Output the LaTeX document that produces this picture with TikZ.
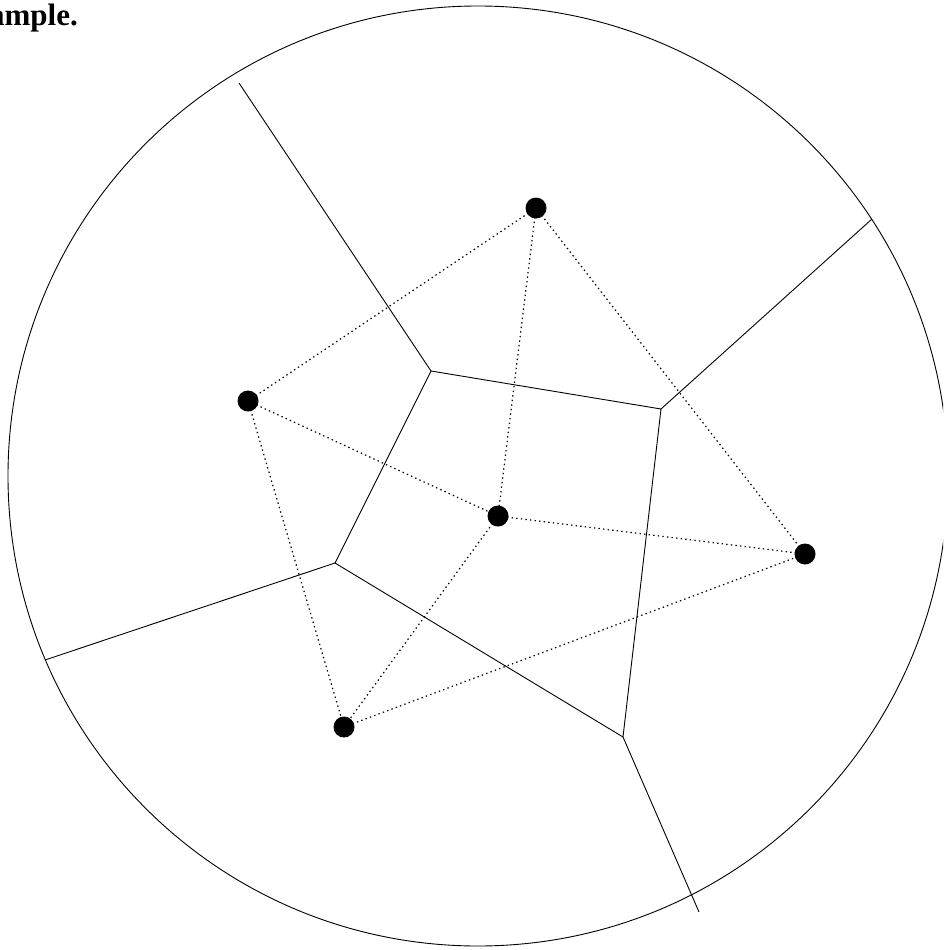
\documentclass[tikz,border=0pt]{standalone}
\usepackage{fontspec}
\setmainfont{Liberation Serif}
\begin{document}
\begin{tikzpicture}[x=1pt,y=-1pt,
  site/.style={circle,fill=black,inner sep=0pt,minimum size=21pt},
  vedge/.style={line width=0.9pt},
  dedge/.style={line width=1.2pt,dash pattern=on 1.4pt off 3.2pt}]
\useasboundingbox (0,0) rectangle (943,950);
\begin{scope}
\clip (0,0) rectangle (943,950);
\draw[vedge] (478,476) circle[radius=470];
\node[anchor=base east,font=\bfseries\fontsize{31}{37}\selectfont,inner sep=0pt] (title) at (78,26) {ample.};
\end{scope}
% sites
\node[site] (A) at (536,208) {};
\node[site] (B) at (248,401) {};
\node[site] (C) at (498,516) {};
\node[site] (D) at (805,554) {};
\node[site] (E) at (344,727) {};
% Voronoi vertices
\coordinate (V1) at (431,371);
\coordinate (V2) at (661,409);
\coordinate (V3) at (335,563);
\coordinate (V4) at (623,737);
\coordinate (R1) at (239,83);
\coordinate (R2) at (872,219);
\coordinate (R3) at (45,660);
\coordinate (R4) at (699,912);
\draw[vedge] (V1) -- (R1);
\draw[vedge] (V2) -- (R2);
\draw[vedge] (V3) -- (R3);
\draw[vedge] (V4) -- (R4);
\draw[vedge] (V1) -- (V2) -- (V4) -- (V3) -- cycle;
% Delaunay edges
\draw[dedge] (A.center) -- (B.center);
\draw[dedge] (A.center) -- (C.center);
\draw[dedge] (A.center) -- (D.center);
\draw[dedge] (B.center) -- (C.center);
\draw[dedge] (B.center) -- (E.center);
\draw[dedge] (C.center) -- (D.center);
\draw[dedge] (C.center) -- (E.center);
\draw[dedge] (E.center) -- (D.center);
\end{tikzpicture}
\end{document}
